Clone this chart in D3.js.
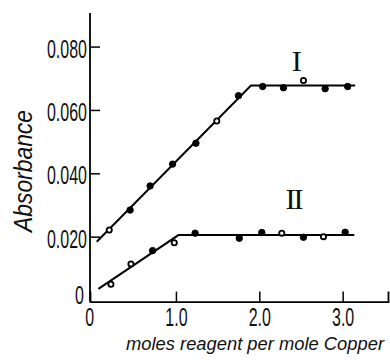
<!DOCTYPE html>
<html>
<head>
<meta charset="utf-8">
<script src="https://cdn.jsdelivr.net/npm/d3@7"></script>
<style>
  html, body { margin: 0; padding: 0; background: #fff; }
  svg { display: block; }
</style>
</head>
<body>
<svg id="chart" width="390" height="360"></svg>
<script>
// ---- data ----
const xTicks = [0, 1, 2, 3];
const xTickLabels = ["0", "1.0", "2.0", "3.0"];
const yTicks = [0, 0.02, 0.04, 0.06, 0.08];
const yTickLabels = ["0", "0.020", "0.040", "0.060", "0.080"];

const seriesIx = [0.20, 0.45, 0.69, 0.96, 1.24, 1.49, 1.75, 2.04, 2.29, 2.53, 2.79, 3.06];
const seriesIy = [0.0221, 0.0284, 0.0360, 0.0429, 0.0495, 0.0565, 0.0645, 0.0674, 0.0670, 0.0693, 0.0667, 0.0674];
const seriesIopen = [true, false, false, false, false, true, false, false, false, true, false, false];

const seriesIIx = [0.22, 0.46, 0.72, 0.98, 1.23, 1.76, 2.03, 2.27, 2.53, 2.77, 3.03];
const seriesIIy = [0.0050, 0.0114, 0.0156, 0.0181, 0.0211, 0.0195, 0.0213, 0.0211, 0.0198, 0.0200, 0.0214];
const seriesIIopen = [true, true, false, true, false, false, false, true, false, true, false];

const fitIx = [0.05, 1.90, 3.15];
const fitIy = [0.0184, 0.0677, 0.0677];
const fitIIx = [0.07, 1.03, 3.14];
const fitIIy = [0.0035, 0.0205, 0.0205];

const curveLabels = ["I", "II"];
const curveLabelX = [2.45, 2.41];
const curveLabelY = [0.0722, 0.0286];

const xTitle = "moles reagent per mole Copper";
const yTitle = "Absorbance";

// ---- drawing ----
const svg = d3.select("#chart");
const x = d3.scaleLinear().domain([-0.031, 3.544]).range([90, 388]);
const y = d3.scaleLinear().domain([-0.0005, 0.0906]).range([301.6, 13]);

const numFont = "'Liberation Sans', Arial, sans-serif";

// x axis
const gx = svg.append("g").attr("transform", `translate(0,${y(-0.0005)})`)
  .call(d3.axisBottom(x).tickValues(xTicks.slice(1)).tickSize(-10).tickPadding(6)
    .tickFormat((d) => xTickLabels[xTicks.indexOf(d)]));
gx.select(".domain").attr("stroke", "#000").attr("stroke-width", 1.8);
gx.selectAll(".tick line").attr("stroke", "#000").attr("stroke-width", 1.5);
gx.selectAll(".tick text").attr("font-family", numFont).attr("font-size", 25)
  .attr("fill", "#111").attr("dy", "0.72em");

// x "0" label
svg.append("text").attr("class", "num").attr("x", x(0) - 3).attr("y", 326)
  .attr("text-anchor", "middle").attr("font-family", numFont).attr("font-size", 25)
  .attr("fill", "#111").text(xTickLabels[0]);

// y axis
const gy = svg.append("g").attr("transform", `translate(${x(-0.031)},0)`)
  .call(d3.axisLeft(y).tickValues(yTicks).tickSize(-10).tickPadding(3)
    .tickFormat((d) => yTickLabels[yTicks.indexOf(d)]));
gy.select(".domain").attr("stroke", "#000").attr("stroke-width", 1.8);
gy.selectAll(".tick line").attr("stroke", "#000").attr("stroke-width", 1.5)
  .attr("display", (d) => d === 0 ? "none" : null);
gy.selectAll(".tick text").attr("font-family", numFont).attr("font-size", 25)
  .attr("fill", "#111").attr("dy", "0.42em");
gy.selectAll(".tick text").filter((d) => d === 0).attr("dy", "0.12em").attr("x", -6);
gy.selectAll("path.domain").attr("d", `M0,${y(-0.0005)}V${y(0.0906)}`);

// condense number glyphs
svg.selectAll(".tick text, text.num").each(function () {
  const w = this.getComputedTextLength();
  d3.select(this).attr("textLength", w * 0.64).attr("lengthAdjust", "spacingAndGlyphs");
});

// fitted lines
const line = d3.line().x((d) => x(d[0])).y((d) => y(d[1]));
[[fitIx, fitIy], [fitIIx, fitIIy]].forEach(([xs, ys]) => {
  svg.append("path").datum(xs.map((v, i) => [v, ys[i]]))
    .attr("d", line).attr("fill", "none").attr("stroke", "#000").attr("stroke-width", 2);
});

// points
[[seriesIx, seriesIy, seriesIopen], [seriesIIx, seriesIIy, seriesIIopen]].forEach(([xs, ys, op]) => {
  svg.append("g").selectAll("circle").data(xs.map((v, i) => [v, ys[i], op[i]]))
    .join("circle")
    .attr("cx", (d) => x(d[0])).attr("cy", (d) => y(d[1]))
    .attr("r", (d) => d[2] ? 2.6 : 3.2)
    .attr("fill", (d) => d[2] ? "#fff" : "#000")
    .attr("stroke", "#000").attr("stroke-width", (d) => d[2] ? 1.8 : 1);
});

// curve labels
curveLabels.forEach((t, i) => {
  svg.append("text").attr("x", x(curveLabelX[i])).attr("y", y(curveLabelY[i]))
    .attr("text-anchor", "middle").attr("font-family", "'Liberation Serif', 'DejaVu Serif', serif")
    .attr("font-size", 30).attr("letter-spacing", t.length > 1 ? -2 : 0)
    .attr("fill", "#111").text(t);
});

// axis titles
svg.append("text").attr("x", 126).attr("y", 350)
  .attr("font-family", "'Liberation Sans', Arial, sans-serif").attr("font-style", "italic")
  .attr("font-size", 18).attr("fill", "#111")
  .attr("textLength", 258).attr("lengthAdjust", "spacingAndGlyphs").text(xTitle);

svg.append("text").attr("transform", "translate(32,232) rotate(-90)")
  .attr("font-family", "'Liberation Sans', Arial, sans-serif").attr("font-style", "italic")
  .attr("font-size", 26).attr("fill", "#111")
  .attr("textLength", 122).attr("lengthAdjust", "spacingAndGlyphs").text(yTitle);
</script>
</body>
</html>
